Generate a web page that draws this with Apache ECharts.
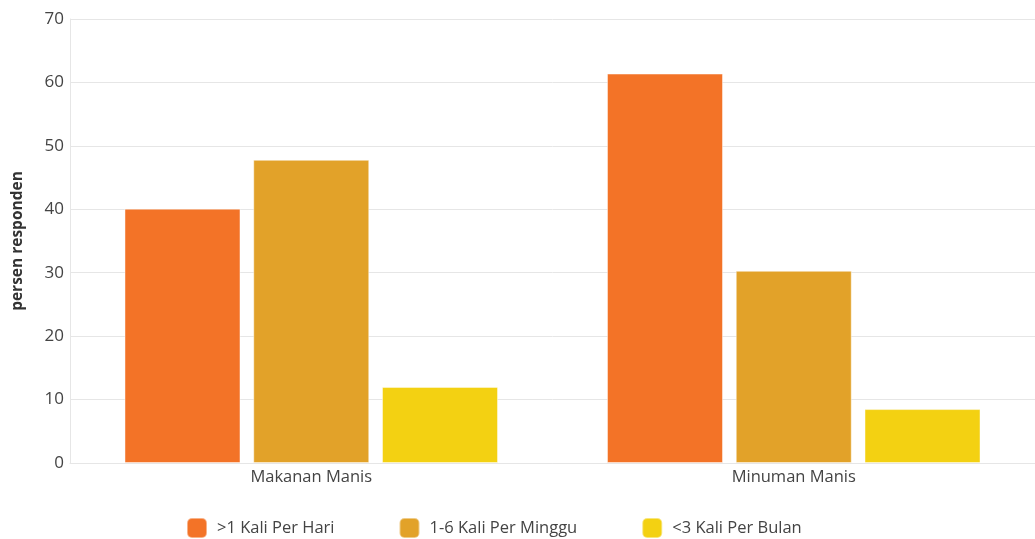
<!DOCTYPE html>
<html><head><meta charset="utf-8">
<script src="https://cdn.jsdelivr.net/npm/echarts@6/dist/echarts.min.js"></script>
<style>html,body{margin:0;padding:0;background:#fff}#c{width:1035px;height:539px}</style>
</head><body><div id="c"></div>
<script>
var categories = ['Makanan Manis', 'Minuman Manis'];
var seriesNames = ['>1 Kali Per Hari', '1-6 Kali Per Minggu', '<3 Kali Per Bulan'];
var perHari = [40.1, 61.4];
var perMinggu = [47.8, 30.3];
var perBulan = [12.0, 8.5];
var colors = ['#F37327', '#E2A229', '#F3D112'];
var font = '"Open Sans", "Noto Sans", sans-serif';
var chart = echarts.init(document.getElementById('c'));
var data = [perHari, perMinggu, perBulan];
chart.setOption({
  animation: false,
  color: colors,
  textStyle: {fontFamily: font},
  grid: {left: 70, right: 0, top: 19, bottom: 76},
  legend: {
    top: 512, left: 181, itemWidth: 20, itemHeight: 20, itemGap: 64,
    icon: 'roundRect',
    textStyle: {fontSize: 16.5, color: '#444', fontFamily: font, padding: [0,0,0,5]},
    data: seriesNames
  },
  xAxis: {
    type: 'category', data: categories,
    axisLine: {lineStyle: {color: '#e6e6e6'}},
    axisTick: {show: false},
    axisLabel: {fontSize: 16.5, color: '#444', margin: 6, fontFamily: font}
  },
  yAxis: {
    type: 'value', min: 0, max: 70, interval: 10,
    name: 'persen responden', nameLocation: 'middle', nameGap: 44,
    nameTextStyle: {fontSize: 15.5, fontWeight: 'bold', color: '#333', fontFamily: font},
    axisLine: {show: true, lineStyle: {color: '#e6e6e6'}},
    axisTick: {show: false},
    splitLine: {lineStyle: {color: '#e6e6e6'}},
    axisLabel: {fontSize: 17, color: '#444', margin: 6, fontFamily: font}
  },
  series: seriesNames.map(function (n, i) {
    return {
      name: n, type: 'bar', data: data[i], barWidth: 116, barGap: '11%',
      itemStyle: {borderColor: 'rgba(255,255,255,0.45)', borderWidth: 1}
    };
  })
});
</script></body></html>
